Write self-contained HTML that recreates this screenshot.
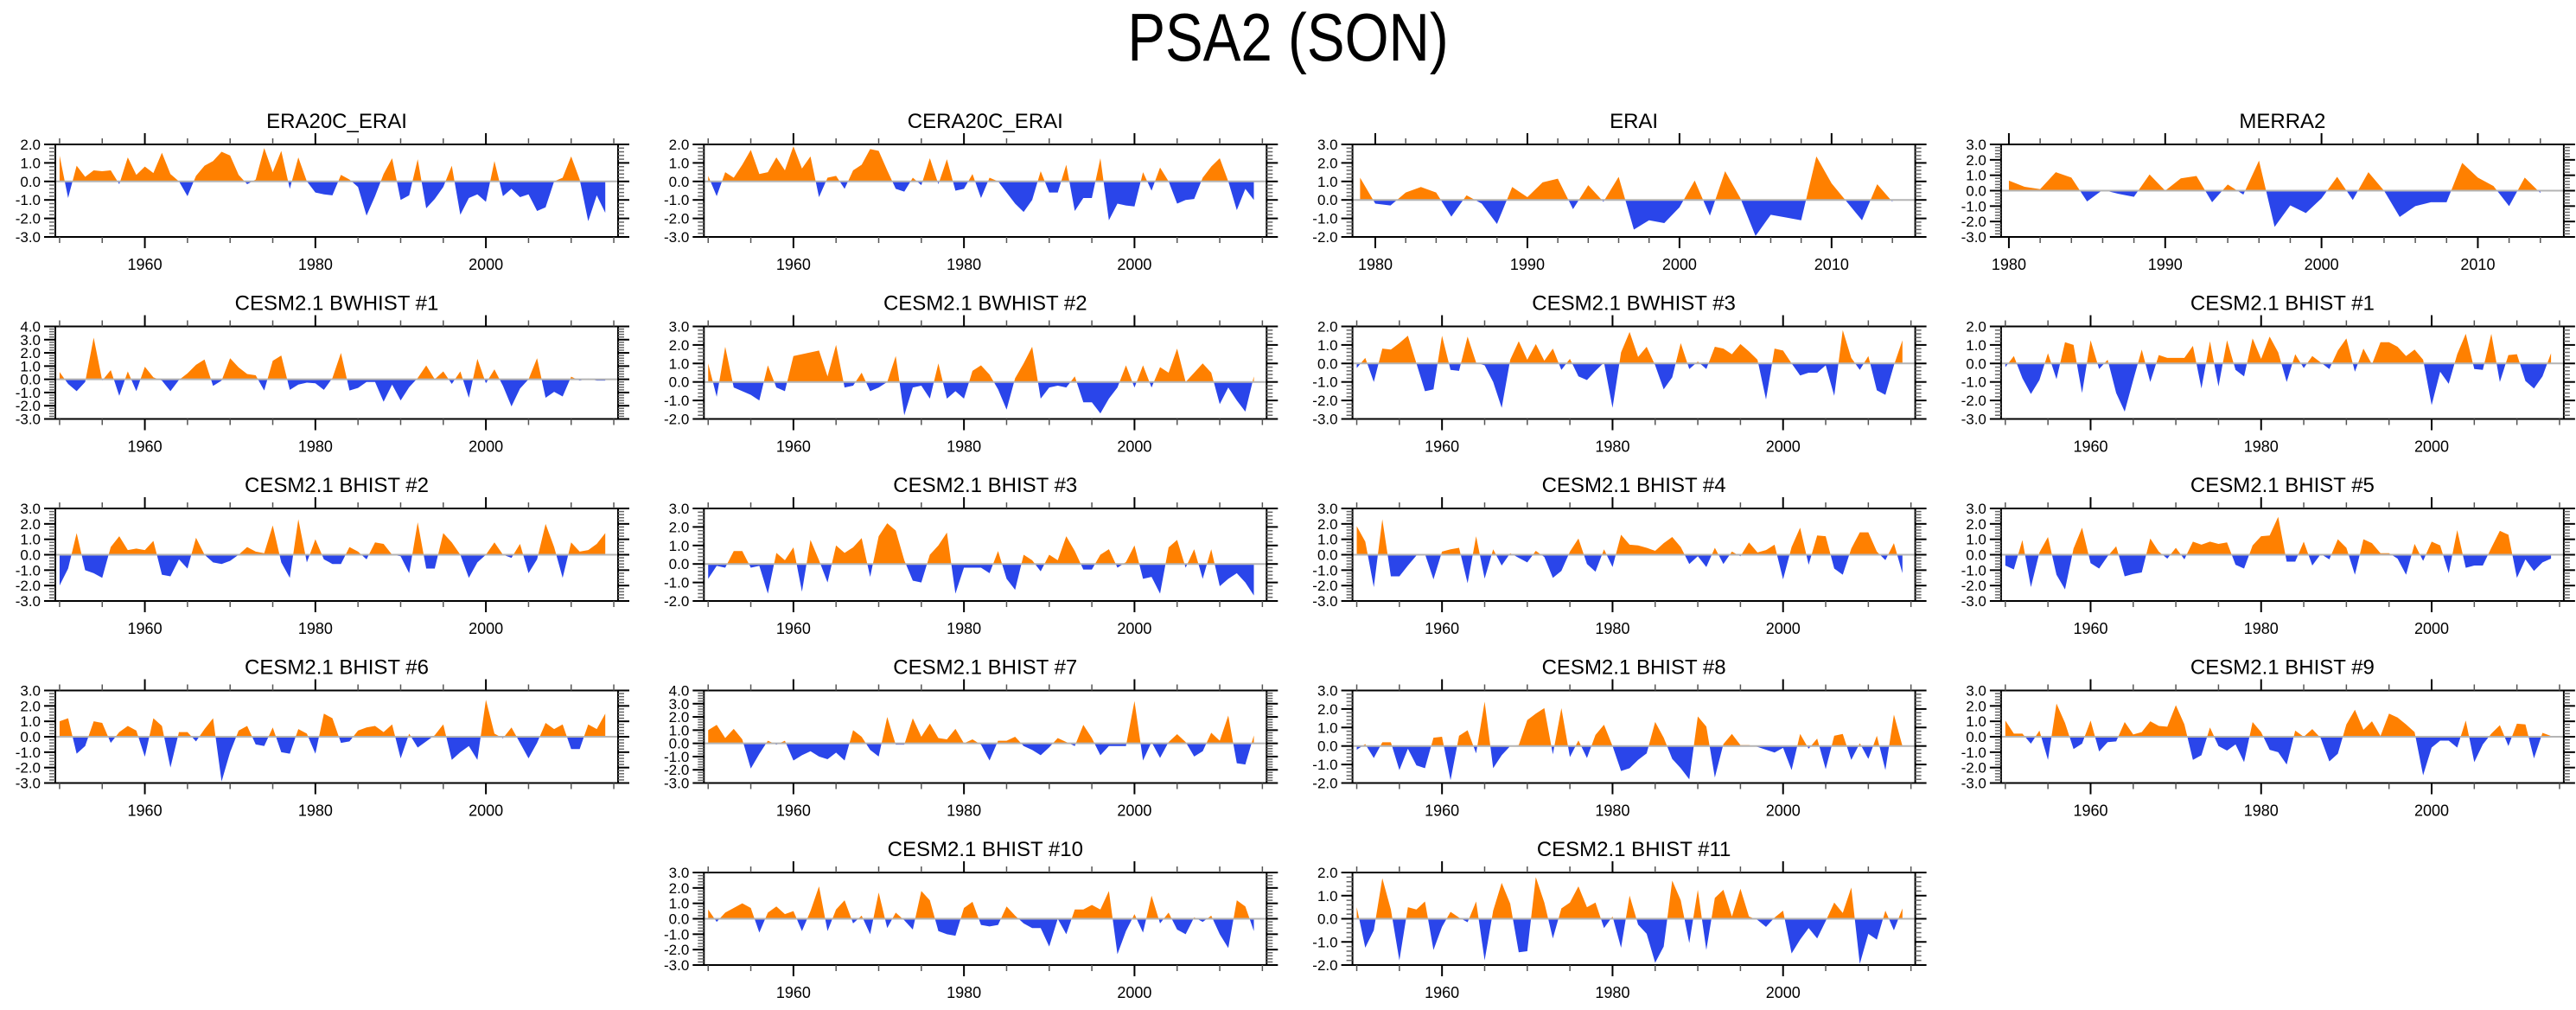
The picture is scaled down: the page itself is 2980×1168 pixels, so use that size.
<!DOCTYPE html>
<html>
<head>
<meta charset="utf-8">
<style>
  html, body { margin:0; padding:0; background:#fff; }
  body { width:2980px; height:1163px; overflow:hidden; }
  svg text { font-family: "Liberation Sans", "DejaVu Sans", sans-serif; fill:#000; }
</style>
</head>
<body>
<svg id="fig" width="2980" height="1163" viewBox="0 0 2980 1163" xmlns="http://www.w3.org/2000/svg">
  <rect x="0" y="0" width="2980" height="1163" fill="#fff"/>
  <text x="1490" y="70" font-size="78" text-anchor="middle" transform="translate(1490,0) scale(0.84,1) translate(-1490,0)">PSA2 (SON)</text>
</svg>
<script>
// ---- data ----
const titles = ["ERA20C_ERAI","CERA20C_ERAI","ERAI","MERRA2",
  "CESM2.1 BWHIST #1","CESM2.1 BWHIST #2","CESM2.1 BWHIST #3","CESM2.1 BHIST #1",
  "CESM2.1 BHIST #2","CESM2.1 BHIST #3","CESM2.1 BHIST #4","CESM2.1 BHIST #5",
  "CESM2.1 BHIST #6","CESM2.1 BHIST #7","CESM2.1 BHIST #8","CESM2.1 BHIST #9",
  "CESM2.1 BHIST #10","CESM2.1 BHIST #11"];
const startYears = [1950,1950,1979,1980, 1950,1950,1950,1950, 1950,1950,1950,1950, 1950,1950,1950,1950, 1950,1950];
const yMins = [-3,-3,-2,-3, -3,-2,-3,-3, -3,-2,-3,-3, -3,-3,-2,-3, -3,-2];
const yMaxs = [2,2,3,3, 4,3,2,2, 3,3,3,3, 3,4,3,3, 3,2];
const panelCols = [0,1,2,3, 0,1,2,3, 0,1,2,3, 0,1,2,3, 1,2];
const panelRows = [0,0,0,0, 1,1,1,1, 2,2,2,2, 3,3,3,3, 4,4];

const sEra20c = [1.4,-0.9,0.85,0.25,0.6,0.55,0.6,-0.15,1.3,0.35, 0.8,0.45,1.55,0.4,0.0,-0.8,0.3,0.85,1.1,1.6, 1.4,0.35,-0.15,0.1,1.8,0.5,1.65,-0.4,1.3,0.0, -0.6,-0.7,-0.75,0.35,0.1,-0.3,-1.85,-0.8,0.4,1.25, -1.0,-0.75,1.2,-1.45,-0.95,-0.3,0.85,-1.8,-0.9,-0.7, -1.1,1.1,-0.8,-0.4,-0.85,-0.7,-1.6,-1.4,0.0,0.2, 1.35,0.1,-2.15,-0.75,-1.7];
const sCera20c = [0.3,-0.8,0.5,0.2,0.9,1.7,0.4,0.5,1.3,0.6, 1.9,0.7,1.35,-0.85,0.2,0.3,-0.4,0.6,0.9,1.75, 1.65,0.6,-0.4,-0.55,0.2,-0.2,1.25,-0.15,1.2,-0.5, -0.4,0.4,-0.9,0.2,0.0,-0.6,-1.2,-1.65,-1.0,0.55, -0.6,-0.6,0.9,-1.6,-0.9,-0.9,1.25,-2.1,-1.2,-1.3, -1.35,0.5,-0.5,0.75,0.0,-1.2,-1.0,-0.95,0.2,0.8, 1.25,0.0,-1.55,-0.4,-1.0];
const sErai = [1.2,-0.2,-0.3,0.4,0.7,0.4,-0.9,0.25,-0.2,-1.3, 0.7,0.15,0.95,1.15,-0.5,0.8,-0.1,1.25,-1.6,-1.1, -1.25,-0.4,1.05,-0.85,1.55,0.1,-1.95,-0.8,-0.95,-1.1, 2.35,0.9,-0.1,-1.1,0.85,-0.1];
const sMerra2 = [0.65,0.25,0.1,1.2,0.85,-0.7,0.05,-0.2,-0.4,1.05, 0.0,0.8,0.95,-0.75,0.4,-0.25,1.95,-2.35,-0.95,-1.45, -0.5,0.9,-0.6,1.2,0.0,-1.7,-1.0,-0.75,-0.75,1.8, 0.85,0.3,-1.0,0.85,-0.15];
const sBwhist1 = [0.55,-0.35,-0.9,-0.2,3.15,-0.1,0.7,-1.25,0.6,-0.9, 0.95,0.15,-0.1,-0.9,-0.05,0.45,1.1,1.5,-0.5,-0.1, 1.6,0.9,0.4,0.3,-0.85,1.4,1.8,-0.8,-0.4,-0.25, -0.3,-0.8,0.1,2.0,-0.85,-0.65,-0.2,-0.2,-1.7,-0.4, -1.6,-0.6,0.1,1.05,0.0,0.6,-0.35,0.6,-1.4,1.55, -0.3,0.75,-0.5,-2.05,-0.7,0.0,1.6,-1.4,-0.95,-1.3, 0.2,-0.1,0.05,-0.1,-0.1];
const sBwhist2 = [1.0,-0.8,1.9,-0.3,-0.5,-0.7,-1.0,0.9,-0.3,-0.5, 1.4,1.5,1.6,1.7,0.3,2.0,-0.3,-0.2,0.5,-0.5, -0.3,0.0,1.4,-1.8,-0.3,-0.2,-0.9,1.0,-0.9,-0.5, -0.9,0.6,0.9,0.4,-0.4,-1.5,0.2,1.0,1.9,-0.9, -0.3,-0.2,-0.3,0.3,-1.1,-1.1,-1.7,-0.9,-0.3,0.9, -0.3,0.9,-0.3,0.8,0.5,1.8,0.0,0.5,1.0,0.5, -1.2,-0.3,-1.0,-1.6,0.3];
const sBwhist3 = [-0.25,0.3,-1.0,0.8,0.75,1.1,1.5,0.0,-1.5,-1.4, 1.5,-0.35,-0.4,1.45,0.05,-0.1,-1.0,-2.4,0.2,1.2, 0.2,1.05,0.15,0.8,-0.35,0.25,-0.7,-0.9,-0.4,0.05, -2.4,0.6,1.7,0.35,0.9,-0.1,-1.4,-0.75,1.1,-0.3, 0.1,-0.3,0.9,0.8,0.5,1.05,0.65,0.2,-1.95,0.8, 0.7,0.0,-0.65,-0.5,-0.5,-0.1,-1.75,1.8,0.3,-0.35, 0.4,-1.45,-1.7,-0.1,1.25];
const sBhist1 = [-0.2,0.4,-0.8,-1.65,-0.9,0.55,-0.85,1.15,1.0,-1.6, 1.25,-0.3,0.2,-1.6,-2.6,-0.9,0.75,-1.0,0.45,0.3, 0.3,0.3,0.95,-1.35,1.2,-1.25,1.25,-0.35,-0.7,1.35, 0.25,1.45,0.6,-1.0,0.5,-0.25,0.4,0.05,-0.3,0.7, 1.35,-0.45,0.8,-0.05,1.15,1.15,0.9,0.4,0.75,0.2, -2.25,-0.45,-1.1,0.5,1.6,-0.3,-0.35,1.6,-1.0,0.45, 0.5,-0.95,-1.35,-0.7,0.55];
const sBhist2 = [-2.0,-0.9,1.4,-1.0,-1.2,-1.5,0.5,1.2,0.3,0.4, 0.3,0.9,-1.3,-1.4,-0.3,-0.9,1.1,0.0,-0.5,-0.6, -0.4,0.0,0.5,0.2,0.1,1.9,-0.5,-1.5,2.3,-0.5, 1.0,-0.3,-0.6,-0.6,0.5,0.2,-0.3,0.8,0.7,0.0, -0.1,-1.2,2.1,-0.9,-0.9,1.4,0.8,0.0,-1.5,-0.5, 0.0,0.8,0.0,-0.2,0.7,-1.2,-0.3,2.0,0.5,-1.5, 0.8,0.2,0.3,0.7,1.4];
const sBhist3 = [-0.8,-0.1,-0.2,0.7,0.7,-0.2,-0.1,-1.6,0.6,0.2, 0.9,-1.5,1.3,0.2,-1.0,1.0,0.6,0.9,1.4,-0.7, 1.5,2.2,1.8,0.2,-0.9,-1.0,0.5,1.0,1.7,-1.6, -0.2,-0.2,-0.2,-0.5,0.7,-0.8,-1.4,0.5,0.2,-0.4, 0.5,0.2,1.5,0.7,-0.3,-0.3,0.5,0.8,-0.2,0.1, 1.0,-0.8,-0.7,-1.6,0.9,1.3,-0.2,0.8,-0.8,0.8, -1.2,-0.8,-0.5,-1.0,-1.7];
const sBhist4 = [1.85,0.85,-2.1,2.3,-1.4,-1.4,-0.7,-0.05,0.05,-1.6, 0.2,0.35,0.45,-1.85,1.2,-1.55,0.35,-0.7,0.1,-0.2, -0.5,0.25,-0.15,-1.5,-1.05,0.2,1.05,-0.6,-1.1,0.35, -0.8,1.3,0.65,0.6,0.45,0.25,0.75,1.15,0.5,-0.6, -0.1,-0.8,0.45,-0.6,0.2,-0.1,0.8,0.15,0.3,0.65, -1.6,0.5,1.75,-0.65,1.25,1.2,-0.9,-1.3,0.4,1.45, 1.45,0.2,-0.35,0.75,-1.2];
const sBhist5 = [-0.7,-0.95,0.95,-2.1,0.15,1.15,-1.3,-2.25,0.4,1.75, -0.55,-0.9,-0.1,0.55,-1.4,-1.25,-1.15,1.05,0.2,-0.25, 0.45,-0.3,0.85,0.65,0.85,0.7,0.8,-0.65,-0.9,0.6, 1.2,1.25,2.45,-0.45,-0.45,0.85,-0.7,0.05,-0.3,1.0, 0.45,-1.3,1.0,0.75,0.1,0.1,-0.25,-1.3,0.7,-0.4, 0.85,0.6,-1.2,1.6,-0.85,-0.7,-0.7,0.45,1.55,1.3, -1.5,-0.3,-1.05,-0.5,-0.25];
const sBhist6 = [1.0,1.2,-1.1,-0.6,1.0,0.9,-0.4,0.3,0.7,0.4, -1.3,1.2,0.7,-2.0,0.3,0.3,-0.3,0.5,1.2,-2.9, -1.0,0.4,0.7,-0.5,-0.6,0.6,-1.0,-1.1,0.5,0.2, -1.1,1.5,1.2,-0.4,-0.3,0.4,0.6,0.7,0.3,0.8, -1.4,0.2,-0.7,-0.3,0.1,0.8,-1.5,-1.0,-0.6,-1.5, 2.4,0.2,-0.1,0.6,-0.4,-1.4,-0.4,0.9,0.5,0.8, -0.8,-0.8,0.8,0.5,1.5];
const sBhist7 = [1.0,1.4,0.4,1.1,0.3,-1.9,-0.8,0.2,-0.1,0.2, -1.3,-0.9,-0.6,-1.0,-1.2,-0.7,-1.3,1.0,0.5,-0.5, -1.0,2.0,-0.1,-0.1,1.9,0.5,1.5,0.4,0.3,1.1, 0.0,0.3,-0.1,-1.3,0.2,0.2,0.5,-0.2,-0.5,-0.9, -0.3,0.4,0.1,-0.2,1.4,0.4,-0.9,-0.2,-0.2,-0.2, 3.2,-1.3,0.1,-1.1,0.1,0.7,0.1,-1.0,-0.6,0.8, 0.2,2.1,-1.5,-1.6,0.6];
const sBhist8 = [-0.2,0.1,-0.65,0.2,0.2,-1.3,-0.15,-1.05,-1.2,0.45, 0.5,-1.85,0.55,0.85,-0.4,2.4,-1.2,-0.5,0.0,0.05, 1.4,1.75,2.05,-0.45,2.05,-0.6,0.3,-0.65,0.6,1.15, 0.0,-1.35,-1.2,-0.75,-0.4,1.3,0.45,-0.7,-1.2,-1.8, 1.6,1.05,-1.7,0.1,0.65,0.05,0.05,-0.05,-0.2,-0.35, -0.1,-1.3,0.65,-0.15,0.4,-1.25,0.55,0.65,-0.75,0.15, -0.7,0.55,-1.3,1.7,0.0];
const sBhist9 = [1.05,0.2,0.2,-0.45,0.4,-1.5,2.15,0.9,-0.8,-0.45, 1.05,-0.95,-0.35,-0.3,0.95,0.15,0.3,1.0,0.7,0.65, 2.05,0.8,-1.5,-1.2,0.6,-0.6,-0.9,-0.5,-1.65,0.95, 0.3,-0.85,-1.0,-1.8,0.4,0.0,0.5,-0.1,-1.6,-1.1, 0.8,1.75,0.45,1.0,0.05,1.5,1.25,0.8,0.3,-2.5, -0.7,-0.25,-0.25,-0.7,1.05,-1.65,-0.5,0.2,0.75,-0.6, 0.85,0.8,-1.4,0.25,0.05];
const sBhist10 = [0.6,-0.2,0.4,0.7,1.0,0.7,-0.9,0.4,0.8,0.3, 0.5,-0.8,0.5,2.1,-0.8,0.6,1.2,-0.3,0.2,-1.0, 1.7,-0.6,0.4,-0.1,-0.7,1.8,1.2,-0.8,-1.0,-1.1, 0.7,1.1,-0.4,-0.5,-0.4,0.8,0.2,-0.3,-0.6,-0.6, -1.8,0.0,-1.0,0.6,0.6,0.9,0.6,1.8,-2.3,-0.8, 0.3,-0.9,1.5,-0.3,0.4,-0.7,-1.0,0.1,-0.2,0.2, -1.0,-1.9,1.2,0.8,-0.8];
const sBhist11 = [0.5,-1.25,-0.5,1.75,0.4,-1.8,0.5,0.4,0.75,-1.35, -0.35,0.3,0.05,-0.15,0.75,-1.8,0.35,1.55,0.65,-1.45, -1.4,1.8,0.7,-0.85,0.45,0.7,1.4,0.5,0.7,-0.4, 0.1,-1.25,1.0,-0.25,-0.65,-1.9,-1.2,1.65,0.8,-1.05, 1.25,-1.35,0.9,1.25,0.1,1.3,0.1,-0.05,-0.35,0.05, 0.35,-1.5,-0.9,-0.4,-0.85,-0.1,0.7,0.25,1.35,-1.95, -0.65,-0.9,0.35,-0.5,0.45];

const seriesList = [sEra20c,sCera20c,sErai,sMerra2, sBwhist1,sBwhist2,sBwhist3,sBhist1, sBhist2,sBhist3,sBhist4,sBhist5, sBhist6,sBhist7,sBhist8,sBhist9, sBhist10,sBhist11];

// ---- drawing ----
const NS = "http://www.w3.org/2000/svg";
const svg = document.getElementById("fig");
const BOX_W = 651, BOX_H = 107;
const COL_X0 = 64, COL_DX = 750.3;
const ROW_Y0 = 167, ROW_DY = 210.5;
const END_YEAR = 2015.5;
const ORANGE = "#ff8000", BLUE = "#2a45ea";

function mk(tag, attrs, parent) {
  const el = document.createElementNS(NS, tag);
  for (const k in attrs) el.setAttribute(k, attrs[k]);
  (parent || svg).appendChild(el);
  return el;
}
function fmt(v) { return (v < 0 ? "-" : "") + Math.abs(v).toFixed(1); }

for (let p = 0; p < titles.length; p++) {
  const left = COL_X0 + panelCols[p] * COL_DX;
  const top = ROW_Y0 + panelRows[p] * ROW_DY;
  const right = left + BOX_W, bottom = top + BOX_H;
  const y0 = startYears[p];
  const xMin = y0 - 0.5, xMax = END_YEAR;
  const yMin = yMins[p], yMax = yMaxs[p];
  const xs = yr => left + (yr - xMin) / (xMax - xMin) * BOX_W;
  const ys = v => bottom - (v - yMin) / (yMax - yMin) * BOX_H;
  const data = seriesList[p];

  const g = mk("g", {});
  
  

  // title
  const t = mk("text", {x: (left + right) / 2, y: top - 19, "font-size": 24, "text-anchor": "middle"}, g);
  t.textContent = titles[p];
  
  

  // area polygon
  const zy = ys(0);
  let pts = xs(y0).toFixed(2) + "," + zy.toFixed(2);
  for (let i = 0; i < data.length; i++) pts += " " + xs(y0 + i).toFixed(2) + "," + ys(data[i]).toFixed(2);
  pts += " " + xs(y0 + data.length - 1).toFixed(2) + "," + zy.toFixed(2);
  const cidA = "clipA" + p, cidB = "clipB" + p;
  const defs = mk("defs", {}, g);
  const ca = mk("clipPath", {id: cidA}, defs);
  mk("rect", {x: left, y: top, width: BOX_W, height: zy - top}, ca);
  const cb = mk("clipPath", {id: cidB}, defs);
  mk("rect", {x: left, y: zy, width: BOX_W, height: bottom - zy}, cb);
  const pos = mk("polygon", {points: pts, fill: ORANGE, "clip-path": "url(#" + cidA + ")"}, g);
  
  
  const neg = mk("polygon", {points: pts, fill: BLUE, "clip-path": "url(#" + cidB + ")"}, g);
  
  

  // zero line
  const zl = mk("line", {x1: left, x2: right, y1: zy, y2: zy, stroke: "#b4b4b4", "stroke-width": 2}, g);
  
  

  // frame
  const fr = mk("rect", {x: left, y: top, width: BOX_W, height: BOX_H, fill: "none", stroke: "#000", "stroke-width": 2}, g);
  
  

  // y ticks
  const ny = Math.round((yMax - yMin) / 0.2);
  for (let k = 0; k <= ny; k++) {
    const v = yMin + k * 0.2;
    const yy = ys(v);
    const major = Math.abs(v - Math.round(v)) < 1e-6;
    const len = major ? 13 : 7;
    const col = major ? "#000" : "#666";
    mk("line", {x1: left - len, x2: left, y1: yy, y2: yy, stroke: col, "stroke-width": major ? 2 : 1.5}, g);
    mk("line", {x1: right, x2: right + len, y1: yy, y2: yy, stroke: col, "stroke-width": major ? 2 : 1.5}, g);
    if (major) {
      const lb = mk("text", {x: left - 17, y: yy + 6, "font-size": 17, "text-anchor": "end"}, g);
      lb.textContent = fmt(Math.round(v));
      
      
    }
  }

  // x ticks
  const minorStep = (y0 >= 1970) ? 2 : 5;
  const majorStep = (y0 >= 1970) ? 10 : 20;
  for (let yr = Math.ceil(xMin / minorStep) * minorStep; yr <= xMax; yr += minorStep) {
    const xx = xs(yr);
    const major = yr % majorStep === 0;
    const len = major ? 13 : 7;
    const col = major ? "#000" : "#555";
    mk("line", {x1: xx, x2: xx, y1: top - len, y2: top, stroke: col, "stroke-width": major ? 2 : 1.5}, g);
    mk("line", {x1: xx, x2: xx, y1: bottom, y2: bottom + len, stroke: col, "stroke-width": major ? 2 : 1.5}, g);
    if (major) {
      const lb = mk("text", {x: xx, y: bottom + 38, "font-size": 18, "text-anchor": "middle"}, g);
      lb.textContent = String(yr);
      
      
    }
  }
}
</script>
</body>
</html>
